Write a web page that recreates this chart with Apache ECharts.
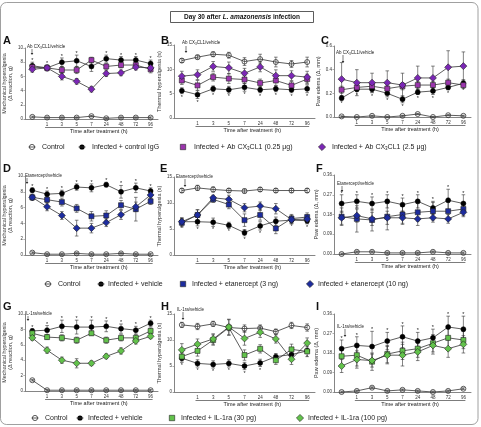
<!DOCTYPE html>
<html lang="en">
<head>
<meta charset="UTF-8">
<script src="https://cdn.jsdelivr.net/npm/echarts@6/dist/echarts.min.js"></script>
<style>
  html, body { margin: 0; background: #fff; }
  #container { width: 481px; height: 427px; }
</style>
</head>
<body>
<div id="container"></div>
<script>
// time points (first one = baseline before treatment, no label)
var cats = ['', '1', '3', '5', '7', '24', '48', '72', '96'];

// each panel: [control, infected, low dose (square), high dose (diamond)]
var panelA = [
  [0.3, 0.2, 0.2, 0.2, 0.4, 0.1, 0.2, 0.2, 0.2],
  [7.5, 7.2, 8.0, 8.2, 7.4, 8.5, 8.3, 8.3, 7.8],
  [7.3, 7.2, 6.9, 6.9, 8.3, 7.4, 7.6, 7.6, 7.0],
  [7.0, 7.2, 6.0, 5.3, 4.2, 6.4, 6.5, 7.3, 7.2]
];
var panelAErr = [
  [0.1, 0.1, 0.1, 0.1, 0.1, 0.1, 0.1, 0.1, 0.1],
  [0.5, 0.4, 0.6, 0.8, 0.7, 0.5, 0.5, 0.5, 0.5],
  [0.4, 0.4, 0.5, 0.5, 0.4, 0.4, 0.4, 0.4, 0.5],
  [0.4, 0.3, 0.5, 0.4, 0.4, 0.4, 0.4, 0.4, 0.4]
];
var panelB = [
  [11.8, 12.5, 13.1, 12.9, 11.6, 12.1, 11.5, 11.1, 11.5],
  [5.6, 4.8, 6.0, 5.8, 6.3, 5.8, 6.0, 5.8, 6.0],
  [7.7, 6.7, 8.4, 8.1, 7.9, 7.2, 7.7, 6.7, 8.0],
  [8.6, 8.9, 10.6, 10.3, 9.2, 10.5, 8.7, 8.7, 8.4]
];
var panelBErr = [
  [0.4, 0.4, 0.5, 0.6, 0.8, 1.0, 1.0, 0.7, 1.0],
  [0.6, 0.8, 0.6, 0.7, 0.8, 0.6, 0.6, 0.6, 0.8],
  [0.8, 1.0, 0.8, 1.0, 0.8, 0.8, 1.0, 0.8, 1.0],
  [1.0, 1.0, 1.0, 1.2, 1.0, 1.0, 1.2, 1.0, 1.2]
];
var panelC = [
  [0.005, 0.0, 0.01, 0.0, 0.01, 0.025, 0.0, 0.015, 0.01],
  [0.16, 0.235, 0.235, 0.2, 0.15, 0.21, 0.22, 0.25, 0.285],
  [0.23, 0.25, 0.26, 0.24, 0.26, 0.27, 0.27, 0.29, 0.27],
  [0.32, 0.29, 0.29, 0.29, 0.27, 0.33, 0.33, 0.42, 0.43]
];
var panelCErr = [
  [0.005, 0.005, 0.005, 0.005, 0.005, 0.005, 0.005, 0.005, 0.005],
  [0.02, 0.02, 0.03, 0.03, 0.03, 0.02, 0.03, 0.02, 0.03],
  [0.03, 0.03, 0.03, 0.03, 0.03, 0.03, 0.03, 0.03, 0.03],
  [0.14, 0.11, 0.08, 0.1, 0.1, 0.1, 0.1, 0.14, 0.12]
];
var panelD = [
  [0.3, 0.1, 0.1, 0.2, 0.1, 0.1, 0.2, 0.1, 0.1],
  [8.2, 7.7, 7.8, 8.6, 8.5, 8.9, 8.0, 8.5, 8.1],
  [7.3, 7.0, 6.7, 5.9, 4.9, 5.0, 6.3, 5.8, 6.8],
  [7.3, 6.1, 5.0, 3.4, 3.4, 4.1, 5.1, 6.1, 7.6]
];
var panelDErr = [
  [0.1, 0.1, 0.1, 0.1, 0.1, 0.1, 0.1, 0.1, 0.1],
  [0.3, 0.4, 0.4, 0.4, 0.5, 0.3, 0.8, 0.6, 0.4],
  [0.4, 0.4, 0.5, 0.5, 0.6, 0.6, 0.6, 1.5, 0.4],
  [0.3, 0.5, 0.5, 1.0, 0.6, 0.5, 0.6, 0.6, 0.4]
];
var panelE = [
  [12.4, 12.9, 12.6, 12.4, 12.3, 12.6, 12.4, 12.4, 12.4],
  [6.4, 6.4, 6.3, 5.7, 4.3, 5.6, 6.5, 6.7, 6.6],
  [6.2, 7.7, 10.7, 9.7, 6.7, 7.7, 5.1, 7.0, 7.3],
  [6.4, 7.7, 11.0, 10.7, 9.1, 9.4, 8.9, 6.8, 6.9]
];
var panelEErr = [
  [0.4, 0.5, 0.5, 0.4, 0.4, 0.4, 0.4, 0.4, 0.4],
  [0.6, 0.8, 0.8, 0.6, 0.6, 0.8, 0.8, 0.6, 0.6],
  [0.8, 1.0, 0.6, 0.8, 1.2, 1.0, 1.0, 0.8, 0.8],
  [0.8, 1.0, 0.5, 0.8, 0.8, 0.8, 1.0, 0.8, 0.8]
];
var panelF = [
  [0.0, 0.01, 0.01, 0.005, 0.005, 0.005, 0.01, 0.005, 0.005],
  [0.23, 0.24, 0.23, 0.24, 0.225, 0.24, 0.21, 0.245, 0.23],
  [0.17, 0.16, 0.155, 0.17, 0.18, 0.19, 0.195, 0.195, 0.205],
  [0.165, 0.175, 0.16, 0.165, 0.165, 0.16, 0.165, 0.16, 0.19]
];
var panelFErr = [
  [0.004, 0.004, 0.004, 0.004, 0.004, 0.004, 0.004, 0.004, 0.004],
  [0.04, 0.03, 0.03, 0.03, 0.03, 0.03, 0.03, 0.05, 0.04],
  [0.04, 0.06, 0.05, 0.06, 0.04, 0.04, 0.04, 0.04, 0.03],
  [0.03, 0.03, 0.03, 0.03, 0.03, 0.03, 0.02, 0.02, 0.02]
];
var panelG = [
  [1.4, 0.1, 0.1, 0.1, 0.1, 0.1, 0.1, 0.1, 0.1],
  [7.8, 7.9, 8.4, 8.3, 8.3, 8.4, 8.1, 7.9, 8.8],
  [7.5, 7.0, 6.9, 6.6, 7.5, 6.6, 6.9, 6.9, 7.8],
  [6.9, 5.3, 4.0, 3.6, 3.6, 4.5, 5.2, 6.5, 7.1]
];
var panelGErr = [
  [0.1, 0.1, 0.1, 0.1, 0.1, 0.1, 0.1, 0.1, 0.1],
  [0.3, 0.6, 0.8, 0.9, 0.9, 0.7, 0.6, 0.5, 0.4],
  [0.3, 0.3, 0.4, 0.4, 0.3, 0.4, 0.4, 0.4, 0.4],
  [0.3, 0.4, 0.4, 0.6, 0.3, 0.3, 0.4, 0.4, 0.3]
];
var panelH = [
  [12.9, 12.6, 13.1, 12.4, 12.2, 12.3, 11.6, 12.8, 12.4],
  [6.5, 5.5, 5.3, 5.5, 5.0, 5.6, 6.8, 7.2, 7.9],
  [6.8, 7.9, 10.0, 12.4, 7.1, 8.3, 6.1, 8.2, 7.8],
  [8.1, 9.2, 10.2, 12.5, 10.3, 11.5, 10.2, 6.3, 9.4]
];
var panelHErr = [
  [0.5, 0.6, 0.5, 0.6, 0.7, 0.6, 0.5, 0.6, 0.7],
  [0.8, 0.7, 0.7, 0.7, 0.7, 0.7, 0.6, 0.6, 0.5],
  [0.8, 1.0, 1.0, 1.5, 1.0, 0.8, 0.8, 1.0, 1.0],
  [1.2, 1.0, 1.0, 1.5, 1.3, 1.0, 0.8, 1.0, 1.0]
];
var panelI = [
  [0.0, 0.005, 0.02, 0.005, 0.01, 0.005, 0.0, 0.005, 0.015],
  [0.2, 0.215, 0.21, 0.235, 0.255, 0.235, 0.25, 0.3, 0.29],
  [0.165, 0.17, 0.14, 0.175, 0.19, 0.2, 0.225, 0.25, 0.24],
  [0.12, 0.15, 0.145, 0.17, 0.17, 0.185, 0.215, 0.2, 0.22]
];
var panelIErr = [
  [0.004, 0.004, 0.004, 0.004, 0.004, 0.004, 0.004, 0.004, 0.004],
  [0.04, 0.04, 0.07, 0.04, 0.05, 0.04, 0.04, 0.05, 0.06],
  [0.04, 0.05, 0.04, 0.04, 0.04, 0.04, 0.04, 0.05, 0.04],
  [0.03, 0.04, 0.03, 0.04, 0.05, 0.04, 0.04, 0.04, 0.04]
];

var FONT = '"Liberation Sans", Arial, sans-serif';
var purpleSq = '#9b35ad', purpleDi = '#7b27b5', blue = '#1d2c9e', green = '#62c24b';

var mechName = 'Mechanical hyperalgesia\n(Δ reaction, g)';
var thermName = 'Thermal hyperalgesia (s)';
var pawName = 'Paw edema (Δ, mm)';

// star: 1 = '*' above the infected error bars, -1 = below
var panels = [
  { letter: 'A', vals: panelA, errs: panelAErr, max: 10, step: 2, dec: 0, yName: mechName, gap: 9, col: [purpleSq, purpleDi], note: 'cx3', star: 1,
    box: [24, 48, 134, 71], lx: 3, ly: 41, nx: 27, ny: 47, ax: 32, ay: [49, 55] },
  { letter: 'B', vals: panelB, errs: panelBErr, max: 15, step: 5, dec: 0, yName: thermName, gap: 7, col: [purpleSq, purpleDi], note: 'cx3', star: -1,
    box: [174, 45, 141, 73], lx: 161, ly: 41, nx: 182, ny: 43, ax: 186, ay: [46, 53] },
  { letter: 'C', vals: panelC, errs: panelCErr, max: 0.6, step: 0.2, dec: 1, yName: pawName, gap: 9, col: [purpleSq, purpleDi], note: 'cx3', star: -1,
    box: [334, 46, 137, 71], lx: 321, ly: 41, nx: 336, ny: 53, ax: 343, ay: [55, 63] },
  { letter: 'D', vals: panelD, errs: panelDErr, max: 10, step: 2, dec: 0, yName: mechName, gap: 9, col: [blue, blue], note: 'Etanercept/vehicle', star: 1,
    box: [24, 176, 134, 79], lx: 3, ly: 169, nx: 25, ny: 176, ax: 27, ay: [178, 184] },
  { letter: 'E', vals: panelE, errs: panelEErr, max: 15, step: 5, dec: 0, yName: thermName, gap: 7, col: [blue, blue], note: 'Etanercept/vehicle', star: -1,
    box: [174, 177, 141, 78], lx: 160, ly: 169, nx: 176, ny: 177, ax: 185, ay: [179, 187] },
  { letter: 'F', vals: panelF, errs: panelFErr, max: 0.36, step: 0.09, dec: 2, yName: pawName, gap: 9, col: [blue, blue], note: 'Etanercept/vehicle', star: 1,
    box: [334, 175, 137, 79], lx: 316, ly: 169, nx: 337, ny: 184, ax: 342, ay: [186, 192] },
  { letter: 'G', vals: panelG, errs: panelGErr, max: 10, step: 2, dec: 0, yName: mechName, gap: 9, col: [green, green], note: 'IL-1ra/vehicle', star: 1,
    box: [24, 314, 134, 77], lx: 3, ly: 307, nx: 25, ny: 314, ax: 28, ay: [316, 321] },
  { letter: 'H', vals: panelH, errs: panelHErr, max: 15, step: 5, dec: 0, yName: thermName, gap: 7, col: [green, green], note: 'IL-1ra/vehicle', star: -1,
    box: [174, 314, 141, 78], lx: 161, ly: 307, nx: 177, ny: 310, ax: 183, ay: [312, 320] },
  { letter: 'I', vals: panelI, errs: panelIErr, max: 0.36, step: 0.09, dec: 2, yName: pawName, gap: 9, col: [green, green], note: 'IL-1ra/vehicle', star: 1,
    box: [334, 314, 137, 78], lx: 316, ly: 307, nx: 337, ny: 327, ax: 345, ay: [329, 337] }
];

function errBar(params, api) {
  var i = api.value(0), v = api.value(1), e = api.value(2), star = api.value(3);
  var hi = api.coord([i, v + e]);
  var lo = api.coord([i, v - e]);
  var st = { stroke: '#333', lineWidth: 0.6 };
  var kids = [
    { type: 'line', shape: { x1: hi[0], y1: hi[1], x2: lo[0], y2: lo[1] }, style: st },
    { type: 'line', shape: { x1: hi[0] - 1.8, y1: hi[1], x2: hi[0] + 1.8, y2: hi[1] }, style: st },
    { type: 'line', shape: { x1: lo[0] - 1.8, y1: lo[1], x2: lo[0] + 1.8, y2: lo[1] }, style: st }
  ];
  if (star) {
    var py = star > 0 ? hi[1] - 1.5 : lo[1] + 3.5;
    kids.push({ type: 'text', x: hi[0], y: py, style: { text: '*', fontSize: 5.5, fontFamily: FONT, fill: '#222', textAlign: 'center', textVerticalAlign: 'middle' } });
  }
  return { type: 'group', children: kids };
}

function symStyle(k, p) {
  if (k === 0) return { symbol: 'circle', size: 5, item: { color: 'rgba(0,0,0,0)', borderColor: '#333', borderWidth: 0.8 } };
  if (k === 1) return { symbol: 'circle', size: 5, item: { color: '#000', borderColor: '#000', borderWidth: 0.5 } };
  if (k === 2) return { symbol: 'rect', size: 5, item: { color: p.col[0], borderColor: '#222', borderWidth: 0.6 } };
  return { symbol: 'diamond', size: 7, item: { color: p.col[1], borderColor: '#222', borderWidth: 0.6 } };
}

var option = {
  animation: false,
  backgroundColor: '#fff',
  textStyle: { fontFamily: FONT },
  grid: [], xAxis: [], yAxis: [], series: []
};

panels.forEach(function (p, g) {
  option.grid.push({ left: p.box[0], top: p.box[1], width: p.box[2], height: p.box[3] });
  option.xAxis.push({
    type: 'category', gridIndex: g, data: cats, boundaryGap: true,
    axisLine: { lineStyle: { color: '#777', width: 0.9 } },
    axisTick: { alignWithLabel: true, length: 2, interval: function (i) { return i > 0; }, lineStyle: { color: '#777', width: 0.6 } },
    axisLabel: { fontSize: 4.5, color: '#333', margin: 3, interval: 0, fontFamily: FONT }
  });
  option.yAxis.push({
    type: 'value', gridIndex: g, min: 0, max: p.max, interval: p.step,
    name: p.yName, nameLocation: 'middle', nameGap: p.gap, nameRotate: 90,
    nameTextStyle: { fontSize: 5.5, color: '#333', lineHeight: 6.5, fontFamily: FONT },
    axisLine: { show: true, lineStyle: { color: '#777', width: 0.9 } },
    axisTick: { show: true, length: 1.5, lineStyle: { color: '#777', width: 0.6 } },
    axisLabel: { fontSize: 4.5, color: '#333', margin: 2, fontFamily: FONT,
      formatter: function (v) { return v.toFixed(p.dec); } },
    splitLine: { show: false }
  });
  p.vals.forEach(function (vals, k) {
    var s = symStyle(k, p);
    option.series.push({
      type: 'custom', xAxisIndex: g, yAxisIndex: g, z: 1,
      renderItem: errBar,
      data: vals.map(function (v, i) { return [i, v, p.errs[k][i], k === 1 ? p.star : 0]; })
    });
    option.series.push({
      type: 'line', xAxisIndex: g, yAxisIndex: g, z: 2,
      data: vals, symbol: s.symbol, symbolSize: s.size, showSymbol: true,
      itemStyle: s.item,
      lineStyle: { color: '#333', width: 0.8 }
    });
  });
});

var chart = echarts.init(document.getElementById('container'), null, { renderer: 'canvas' });
chart.setOption(option);

// static decorations: frame, title, legends
var gr = [];
gr.push({ type: 'rect', shape: { x: 0.5, y: 2.5, width: 477.5, height: 422, r: 6 },
  style: { fill: 'none', stroke: '#888', lineWidth: 0.8 }, z: 0 });
gr.push({ type: 'rect', shape: { x: 170.5, y: 11.5, width: 143, height: 11 },
  style: { fill: '#fff', stroke: '#333', lineWidth: 0.8 }, z: 10 });
gr.push({ type: 'text', x: 242, y: 17, z: 11, style: {
  text: '{b|Day 30 after }{i|L. amazonensis}{b| infection}',
  textAlign: 'center', textVerticalAlign: 'middle',
  rich: { b: { fontSize: 6.5, fontWeight: 'bold', fontFamily: FONT, fill: '#111' },
          i: { fontSize: 6.5, fontWeight: 'bold', fontStyle: 'italic', fontFamily: FONT, fill: '#111' } } } });

var sub = { n: { fontSize: 7, fontFamily: FONT, fill: '#222' }, s: { fontSize: 4.5, fontFamily: FONT, fill: '#222', padding: [4, 0, 0, 0] } };
var legendRows = [
  { y: 147, items: [
    [32, 42, 'Control', 0], [82, 92, 'Infected + control IgG', 1],
    [183, 194, '{n|Infected + Ab CX}{s|3}{n|CL1 (0.25 μg)}', 2], [322, 332, '{n|Infected + Ab CX}{s|3}{n|CL1 (2.5 μg)}', 3]], c: [purpleSq, purpleDi] },
  { y: 284, items: [
    [48, 58, 'Control', 0], [101, 108, 'Infected + vehicle', 1],
    [183, 192, 'Infected + etanercept (3 ng)', 2], [310, 318, 'Infected + etanercept (10 ng)', 3]], c: [blue, blue] },
  { y: 418, items: [
    [35, 45, 'Control', 0], [80, 88, 'Infected + vehicle', 1],
    [172, 181, 'Infected + IL-1ra (30 pg)', 2], [300, 308, 'Infected + IL-1ra (100 pg)', 3]], c: [green, green] }
];
legendRows.forEach(function (row) {
  row.items.forEach(function (it) {
    var sx = it[0], y = row.y, k = it[3];
    if (k === 0) {
      gr.push({ type: 'circle', shape: { cx: sx, cy: y, r: 2.6 }, style: { fill: 'none', stroke: '#333', lineWidth: 0.8 } });
      gr.push({ type: 'line', shape: { x1: sx - 3.5, y1: y, x2: sx + 3.5, y2: y }, style: { stroke: '#333', lineWidth: 0.8 } });
    } else if (k === 1) {
      gr.push({ type: 'circle', shape: { cx: sx, cy: y, r: 2.6 }, style: { fill: '#000' } });
      gr.push({ type: 'line', shape: { x1: sx - 3.5, y1: y, x2: sx + 3.5, y2: y }, style: { stroke: '#333', lineWidth: 0.8 } });
    } else if (k === 2) {
      gr.push({ type: 'rect', shape: { x: sx - 2.7, y: y - 2.7, width: 5.4, height: 5.4 }, style: { fill: row.c[0], stroke: '#222', lineWidth: 0.6 } });
    } else {
      gr.push({ type: 'polygon', shape: { points: [[sx, y - 3.6], [sx + 3.6, y], [sx, y + 3.6], [sx - 3.6, y]] }, style: { fill: row.c[1], stroke: '#222', lineWidth: 0.6 } });
    }
    var txt = it[2].indexOf('{') >= 0 ? it[2] : '{n|' + it[2] + '}';
    gr.push({ type: 'text', x: it[1], y: y, style: { text: txt, textVerticalAlign: 'middle', rich: sub } });
  });
});

// per panel: letters, treatment note + arrow, x-axis bracket and title
var noteRich = { n: { fontSize: 4.5, fontFamily: FONT, fill: '#222' }, s: { fontSize: 3.2, fontFamily: FONT, fill: '#222', padding: [2, 0, 0, 0] } };
panels.forEach(function (p, g) {
  gr.push({ type: 'text', x: p.lx, y: p.ly, style: { text: p.letter, fontSize: 11, fontWeight: 'bold', fontFamily: FONT, fill: '#111', textVerticalAlign: 'middle' } });
  var note = p.note === 'cx3' ? '{n|Ab CX}{s|3}{n|CL1/vehicle}' : '{n|' + p.note + '}';
  gr.push({ type: 'text', x: p.nx, y: p.ny, style: { text: note, textVerticalAlign: 'middle', rich: noteRich } });
  gr.push({ type: 'line', shape: { x1: p.ax, y1: p.ay[0], x2: p.ax, y2: p.ay[1] - 1.5 }, style: { stroke: '#222', lineWidth: 0.6 } });
  gr.push({ type: 'polygon', shape: { points: [[p.ax - 1.3, p.ay[1] - 2], [p.ax + 1.3, p.ay[1] - 2], [p.ax, p.ay[1]]] }, style: { fill: '#222' } });

  var a = chart.convertToPixel({ xAxisIndex: g, yAxisIndex: g }, [1, 0]);
  var b = chart.convertToPixel({ xAxisIndex: g, yAxisIndex: g }, [8, 0]);
  gr.push({ type: 'line', shape: { x1: a[0] - 2, y1: a[1] + 8.5, x2: b[0] + 2, y2: b[1] + 8.5 }, style: { stroke: '#444', lineWidth: 0.7 } });
  gr.push({ type: 'text', x: (a[0] + b[0]) / 2, y: a[1] + 12.5, style: { text: 'Time after treatment (h)', fontSize: 5.5, fontFamily: FONT, fill: '#222', textAlign: 'center', textVerticalAlign: 'middle' } });
});

chart.setOption({ graphic: gr });
</script>
</body>
</html>
